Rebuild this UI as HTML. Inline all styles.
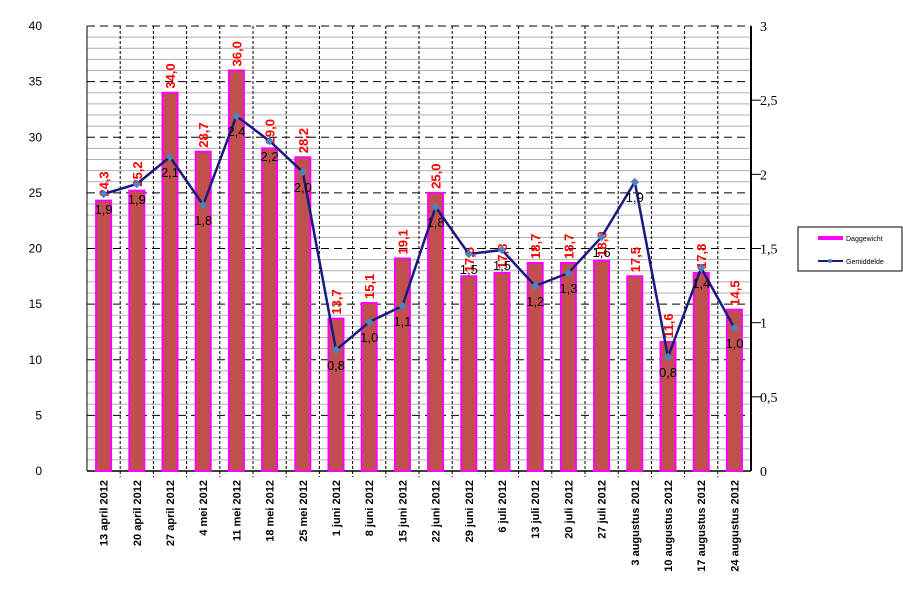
<!DOCTYPE html><html><head><meta charset="utf-8"><style>body{margin:0;background:#fff}svg{display:block}</style></head><body>
<svg id="s" width="903" height="591" xmlns="http://www.w3.org/2000/svg" font-family="Liberation Sans, sans-serif"></svg>
<script>
const s=document.getElementById('s');let h='';
const L=87,R=751,T=26,B=471,n=20,cw=(R-L)/n;
const yl=v=>B-v*(B-T)/40, yr=v=>B-v*(B-T)/3;
for(let v=1;v<40;v++){ if(v%5) h+=`<line x1="${L}" x2="${R}" y1="${yl(v)}" y2="${yl(v)}" stroke="#b0b0b0" stroke-width="1"/>`;}
for(let v=5;v<=40;v+=5){h+=`<line x1="${L}" x2="${R}" y1="${yl(v)}" y2="${yl(v)}" stroke="#000" stroke-dasharray="8,5"/>`;
 h+=`<text x="42" y="${yl(v)+4}" font-size="12" text-anchor="end">${v}</text>`;}
h+=`<text x="42" y="${B+4}" font-size="12" text-anchor="end">0</text>`;
for(let i=1;i<n;i++){const x=L+i*cw;h+=`<line x1="${x}" x2="${x}" y1="${T}" y2="${B+6}" stroke="#000" stroke-dasharray="3,2"/>`;}
const rv=['0','0,5','1','1,5','2','2,5','3'];
rv.forEach((t,i)=>{const y=yr(i*0.5);if(i>0&&i<6)h+=`<line x1="${R}" x2="${R+10}" y1="${y}" y2="${y}" stroke="#000"/>`;h+=`<text x="760" y="${y+5}" font-size="14" font-family="Liberation Serif, serif">${t}</text>`;});
h+=`<line x1="${L}" x2="${L}" y1="${T}" y2="${B}" stroke="#000"/><line x1="${R}" x2="${R}" y1="${T}" y2="${B}" stroke="#000" stroke-width="2"/><line x1="${L}" x2="${R}" y1="${B}" y2="${B}" stroke="#000" stroke-width="1.5"/>`;
const bars=[24.3,25.2,34.0,28.7,36.0,29.0,28.2,13.7,15.1,19.1,25.0,17.5,17.8,18.7,18.7,18.9,17.5,11.6,17.8,14.5];
const py=[194,184,157,205,116,141,172,350,322,306,207,254,250,286,273,237,182,357,268,328];
const ll=['1,9','1,9','2,1','1,8','2,4','2,2','2,0','0,8','1,0','1,1','1,8','1,5','1,5','1,2','1,3','1,6','1,9','0,8','1,4','1,0'];
const labs=['13 april 2012','20 april 2012','27 april 2012','4 mei 2012','11 mei 2012','18 mei 2012','25 mei 2012','1 juni 2012','8 juni 2012','15 juni 2012','22 juni 2012','29 juni 2012','6 juli 2012','13 juli 2012','20 juli 2012','27 juli 2012','3 augustus 2012','10 augustus 2012','17 augustus 2012','24 augustus 2012'];
let pts=[];
bars.forEach((v,i)=>{const c=L+(i+0.5)*cw,y=yl(v);
 h+=`<rect x="${c-7.5}" y="${y}" width="15" height="${B-y}" fill="#c0504d" stroke="#ff00ff" stroke-width="2"/>`;
 h+=`<text transform="translate(${c+5},${y-4}) rotate(-90)" font-size="13" font-weight="bold" fill="#ff0000">${v.toFixed(1).replace('.',',')}</text>`;
 pts.push(c+','+py[i]);
 h+=`<text transform="translate(${c+4},480) rotate(-90)" font-size="11" font-weight="bold" text-anchor="end">${labs[i]}</text>`;});
h+=`<polyline points="${pts.join(' ')}" fill="none" stroke="#1a1a80" stroke-width="2.5"/>`;
pts.forEach((p,i)=>{const [x,y]=p.split(',').map(Number);h+=`<rect x="${x-3}" y="${y-3}" width="6" height="6" fill="#4f81bd" transform="rotate(45 ${x} ${y})"/><text x="${x}" y="${y+20}" font-size="13" text-anchor="middle">${ll[i]}</text>`;});
h+=`<rect x="798" y="227" width="104" height="44" fill="#fff" stroke="#000" stroke-width="1"/>
<rect x="818" y="236" width="25" height="4" fill="#ff00ff"/><text x="846" y="241" font-size="7">Daggewicht</text>
<line x1="818" x2="843" y1="261" y2="261" stroke="#1a1a80" stroke-width="2"/><circle cx="830" cy="261" r="2" fill="#4f81bd"/><text x="846" y="264" font-size="7">Gemiddelde</text>`;
s.innerHTML=h;
</script></body></html>
